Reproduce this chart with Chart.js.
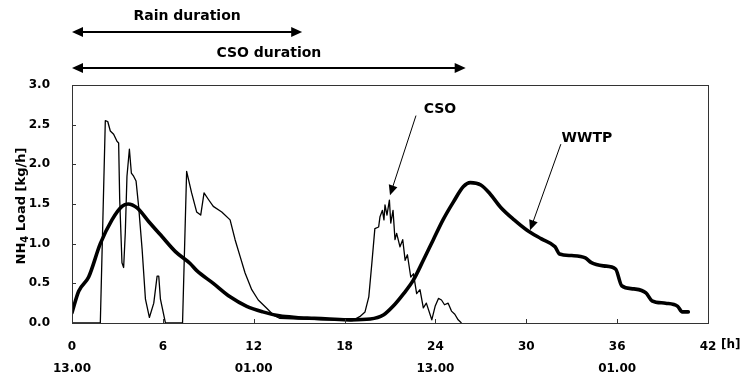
<!DOCTYPE html>
<html>
<head>
<meta charset="utf-8">
<script src="https://cdn.jsdelivr.net/npm/chart.js@4.4.1/dist/chart.umd.min.js"></script>
<style>
  html, body { margin: 0; padding: 0; background: #fff; }
  #wrap { width: 742px; height: 379px; }
</style>
</head>
<body>
<div id="wrap"><canvas id="chart" width="742" height="379"></canvas></div>
<script>
// WWTP load (thick line), hours since 13.00
const wwtpHours = [0, 0.44, 1.1, 1.87, 2.64, 3.3, 3.7, 4.3, 5.06, 5.94, 6.83, 7.8, 8.24, 9.33, 10.44, 11.54, 12.6, 13.7, 14.8, 16, 17, 18.4, 19.7, 20.56, 21.2, 21.9, 22.54, 23.2, 23.86, 24.5, 25.2, 25.85, 26.3, 27, 27.6, 28.3, 29.2, 30.05, 31, 31.9, 32.2, 33, 33.9, 34.3, 35.1, 35.9, 36.3, 37.1, 37.9, 38.3, 39.2, 40, 40.3, 40.7];
const wwtpLoad = [0.13, 0.40, 0.58, 1.0, 1.30, 1.47, 1.50, 1.45, 1.28, 1.09, 0.90, 0.75, 0.66, 0.50, 0.33, 0.21, 0.14, 0.09, 0.07, 0.06, 0.05, 0.04, 0.05, 0.10, 0.21, 0.37, 0.54, 0.79, 1.05, 1.30, 1.53, 1.72, 1.77, 1.74, 1.63, 1.46, 1.30, 1.17, 1.06, 0.96, 0.87, 0.85, 0.82, 0.76, 0.72, 0.68, 0.47, 0.43, 0.38, 0.28, 0.25, 0.21, 0.14, 0.14];

// CSO load (thin line)
const csoHours = [0, 1.87, 2.2, 2.36, 2.53, 2.75, 2.97, 3.08, 3.15, 3.3, 3.41, 3.52, 3.63, 3.79, 3.92, 4.07, 4.23, 4.4, 4.63, 4.85, 5.11, 5.4, 5.62, 5.73, 5.84, 6.17, 7.3, 7.57, 7.9, 8.23, 8.5, 8.72, 9.0, 9.33, 9.89, 10.44, 10.77, 11.1, 11.43, 11.87, 12.3, 12.86, 13.3, 13.7, 15, 17, 18.5, 19.0, 19.35, 19.6, 19.8, 20.0, 20.25, 20.34, 20.5, 20.6, 20.67, 20.8, 20.96, 21.05, 21.2, 21.33, 21.44, 21.66, 21.84, 22.0, 22.15, 22.37, 22.55, 22.76, 22.98, 23.2, 23.4, 23.76, 23.98, 24.2, 24.4, 24.6, 24.84, 25.06, 25.28, 25.5, 25.72];
const csoLoad = [0, 0, 2.55, 2.54, 2.42, 2.38, 2.29, 2.27, 1.56, 0.76, 0.70, 1.14, 1.85, 2.19, 1.89, 1.85, 1.79, 1.47, 0.93, 0.30, 0.07, 0.25, 0.59, 0.59, 0.30, 0, 0, 1.91, 1.64, 1.40, 1.36, 1.64, 1.56, 1.47, 1.40, 1.30, 1.05, 0.84, 0.63, 0.42, 0.29, 0.185, 0.10, 0.06, 0.05, 0.04, 0.03, 0.08, 0.14, 0.33, 0.75, 1.19, 1.21, 1.34, 1.42, 1.30, 1.49, 1.36, 1.55, 1.26, 1.42, 1.05, 1.13, 0.96, 1.05, 0.79, 0.86, 0.58, 0.62, 0.37, 0.42, 0.19, 0.25, 0.04, 0.21, 0.31, 0.29, 0.23, 0.25, 0.15, 0.11, 0.04, 0];

// axis labels
const tickHours = [0, 6, 12, 18, 24, 30, 36, 42];
const tickClock = ['13.00', '', '01.00', '', '13.00', '', '01.00', ''];
const yTicks = [0, 0.5, 1, 1.5, 2, 2.5, 3];

// duration bars above the plot
const durationNames = ['Rain duration', 'CSO duration'];
const durationEnd = [15.2, 26.0];

// callouts: [label, text h, text load, tip h, tip load]
const callouts = [
  ['CSO', 24.3, 2.69, 21.0, 1.61],
  ['WWTP', 34.0, 2.33, 30.25, 1.17]
];

const FONT = '"DejaVu Sans", sans-serif';

function toPoints(xs, ys) {
  return xs.map((h, i) => ({ x: h, y: ys[i] }));
}

function arrowHead(ctx, x, y, angle, len, half) {
  ctx.save();
  ctx.translate(x, y);
  ctx.rotate(angle);
  ctx.beginPath();
  ctx.moveTo(0, 0);
  ctx.lineTo(-len, -half);
  ctx.lineTo(-len, half);
  ctx.closePath();
  ctx.fill();
  ctx.restore();
}

const overlay = {
  id: 'overlay',
  afterDraw(chart) {
    const { ctx, chartArea: a, scales: { x, y } } = chart;
    ctx.save();

    // frame
    ctx.strokeStyle = '#333';
    ctx.lineWidth = 1;
    ctx.strokeRect(Math.round(a.left) + 0.5, Math.round(a.top) + 0.5,
      Math.round(a.right - a.left), Math.round(a.bottom - a.top));

    // inward tick marks
    ctx.beginPath();
    tickHours.forEach(h => {
      const px = Math.round(x.getPixelForValue(h)) + 0.5;
      ctx.moveTo(px, a.bottom);
      ctx.lineTo(px, a.bottom - 4);
    });
    yTicks.forEach(v => {
      const py = Math.round(y.getPixelForValue(v)) + 0.5;
      ctx.moveTo(a.left, py);
      ctx.lineTo(a.left + 4, py);
    });
    ctx.stroke();

    // duration arrows
    ctx.fillStyle = '#000';
    ctx.strokeStyle = '#000';
    const rows = [[32, 16], [68, 53]];
    durationNames.forEach((name, i) => {
      const x0 = x.getPixelForValue(0);
      const x1 = x.getPixelForValue(durationEnd[i]);
      const [ly, ty] = rows[i];
      ctx.lineWidth = 2;
      ctx.beginPath();
      ctx.moveTo(x0 + 6, ly);
      ctx.lineTo(x1 - 6, ly);
      ctx.stroke();
      arrowHead(ctx, x0, ly, Math.PI, 11, 5);
      arrowHead(ctx, x1, ly, 0, 11, 5);
      ctx.font = 'bold 14px ' + FONT;
      ctx.textAlign = 'center';
      ctx.textBaseline = 'middle';
      ctx.fillText(name, (x0 + x1) / 2, ty);
    });

    // callouts
    callouts.forEach(([label, th, tv, ph, pv]) => {
      const tx = x.getPixelForValue(th);
      const ty = y.getPixelForValue(tv);
      const sx = tx - 18 - label.length * 2;
      const sy = ty + 6;
      const ex = x.getPixelForValue(ph);
      const ey = y.getPixelForValue(pv);
      const ang = Math.atan2(ey - sy, ex - sx);
      ctx.lineWidth = 1;
      ctx.beginPath();
      ctx.moveTo(sx, sy);
      ctx.lineTo(ex - Math.cos(ang) * 8, ey - Math.sin(ang) * 8);
      ctx.stroke();
      arrowHead(ctx, ex, ey, ang, 10, 4.5);
      ctx.font = 'bold 14px ' + FONT;
      ctx.textAlign = 'center';
      ctx.textBaseline = 'middle';
      ctx.fillText(label, tx, ty);
    });

    // unit after last x tick
    ctx.font = 'bold 12px ' + FONT;
    ctx.textAlign = 'left';
    ctx.textBaseline = 'middle';
    ctx.fillText('[h]', x.getPixelForValue(42) + 13, a.bottom + 22);

    // y axis title with subscript
    ctx.translate(25, (a.top + a.bottom) / 2 + 2);
    ctx.rotate(-Math.PI / 2);
    ctx.textBaseline = 'alphabetic';
    const big = 'bold 13px ' + FONT;
    const small = 'bold 10px ' + FONT;
    ctx.font = big;
    const w1 = ctx.measureText('NH').width;
    const w3 = ctx.measureText(' Load [kg/h]').width;
    ctx.font = small;
    const w2 = ctx.measureText('4').width;
    let cx = -(w1 + w2 + w3) / 2;
    ctx.font = big;
    ctx.fillText('NH', cx, 0);
    cx += w1;
    ctx.font = small;
    ctx.fillText('4', cx, 3);
    cx += w2;
    ctx.font = big;
    ctx.fillText(' Load [kg/h]', cx, 0);

    ctx.restore();
  }
};

const ctx = document.getElementById('chart').getContext('2d');
const myChart = new Chart(ctx, {
  type: 'line',
  data: {
    datasets: [
      {
        label: 'CSO',
        data: toPoints(csoHours, csoLoad),
        borderColor: '#000',
        borderWidth: 1.3,
        pointRadius: 0,
        tension: 0,
        borderJoinStyle: 'round'
      },
      {
        label: 'WWTP',
        data: toPoints(wwtpHours, wwtpLoad),
        borderColor: '#000',
        borderWidth: 3.6,
        pointRadius: 0,
        cubicInterpolationMode: 'monotone',
        borderJoinStyle: 'round',
        borderCapStyle: 'round'
      }
    ]
  },
  options: {
    responsive: false,
    animation: false,
    events: [],
    layout: { padding: { left: 0, right: 34, top: 85, bottom: 0 } },
    plugins: {
      legend: { display: false },
      tooltip: { enabled: false }
    },
    scales: {
      x: {
        type: 'linear',
        min: 0,
        max: 42,
        grid: { display: false },
        border: { display: true, color: '#333', width: 1 },
        afterFit: s => { s.height = 56; },
        afterBuildTicks: s => { s.ticks = tickHours.map(v => ({ value: v })); },
        ticks: {
          color: '#000',
          padding: 5,
          maxRotation: 0,
          autoSkip: false,
          font: { family: FONT, size: 12, weight: 'bold', lineHeight: '22px' },
          callback: (v) => {
            const i = tickHours.indexOf(v);
            return tickClock[i] ? [String(v), tickClock[i]] : String(v);
          }
        }
      },
      y: {
        min: 0,
        max: 3,
        grid: { display: false },
        border: { display: true, color: '#333', width: 1 },
        afterFit: s => { s.width = 72; },
        afterBuildTicks: s => { s.ticks = yTicks.map(v => ({ value: v })); },
        ticks: {
          color: '#000',
          padding: 14,
          font: { family: FONT, size: 12, weight: 'bold' },
          callback: v => Number(v).toFixed(1)
        }
      }
    }
  },
  plugins: [overlay]
});
</script>
</body>
</html>
